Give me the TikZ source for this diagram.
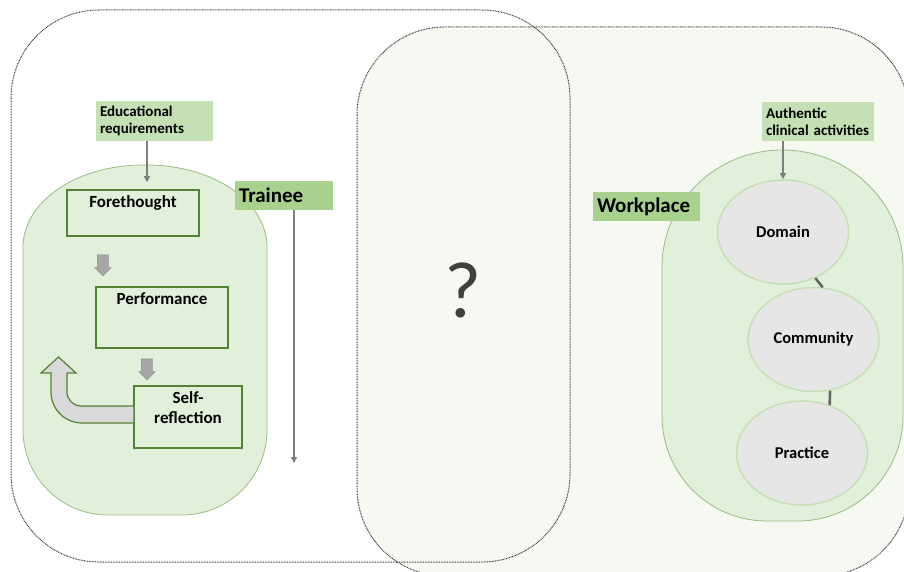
\documentclass[tikz,border=0pt]{standalone}
\usepackage{fontspec}
\setmainfont{Carlito}
\usetikzlibrary{shapes.geometric,shapes.arrows,arrows.meta}

\definecolor{boxgreen}{HTML}{548235}
\definecolor{areagreen}{HTML}{E2EFDA}
\definecolor{areaedge}{HTML}{98BC84}
\definecolor{taggreen}{HTML}{A9D18E}
\definecolor{notegreen}{HTML}{C5E0B4}
\definecolor{wallgreen}{HTML}{F6F9F2}
\definecolor{placegray}{HTML}{E7E6E6}
\definecolor{linegray}{HTML}{7F7F7F}

\begin{document}
\begin{tikzpicture}[x=1pt,y=-1pt,
    stage/.style={draw=boxgreen,line width=1.6pt,inner sep=0pt},
    stagetext/.style={font=\bfseries\fontsize{17}{20}\selectfont,align=center,anchor=north,inner sep=6pt},
    note/.style={fill=notegreen,inner sep=4pt,align=left,font=\bfseries\fontsize{15}{17}\selectfont,minimum height=39pt},
    tag/.style={fill=taggreen,inner sep=4pt,align=left,font=\bfseries\fontsize{21}{23}\selectfont,minimum height=29pt},
    place/.style={ellipse,draw=notegreen,line width=1.5pt,fill=placegray,minimum width=131pt,minimum height=104pt,inner sep=0pt,font=\bfseries\fontsize{16.5}{19}\selectfont},
    venn/.style={draw=black!80,line width=1pt,dash pattern=on 0.8pt off 0.8pt,rounded corners=88pt},
    area/.style={fill=areagreen,draw=areaedge,line width=0.8pt},
    feed/.style={draw=linegray,line width=1.8pt,-{Triangle[length=6pt,width=6pt]}},
    flowarrow/.style={single arrow,shape border rotate=270,fill=black!35,draw=black!45,line width=0.4pt,minimum height=21pt,minimum width=16pt,single arrow head extend=2.5pt,inner sep=5.5pt},
    loopback/.style={draw=boxgreen,line width=1.2pt,fill=black!15},
    link/.style={draw=black!60,line width=2.6pt}]
    \useasboundingbox (0,0) rectangle (904,572);

    \fill[wallgreen,rounded corners=88pt] (357,27) rectangle (909,576);
    \draw[venn] (11,10) rectangle (570,562);
    \draw[venn] (357,27) rectangle (909,576);

    \draw[area] (23,247) arc[start angle=180,end angle=270,x radius=120,y radius=82] -- (147,165)
        arc[start angle=270,end angle=360,x radius=120,y radius=82] -- (267,430)
        arc[start angle=0,end angle=90,radius=85] -- (108,515)
        arc[start angle=90,end angle=180,radius=85] -- cycle;
    \draw[area] (662,267) arc[start angle=180,end angle=360,x radius=120.5,y radius=117] -- (903,416)
        arc[start angle=0,end angle=90,radius=105] -- (767,521)
        arc[start angle=90,end angle=180,radius=105] -- cycle;

    \node[stage,minimum width=132pt,minimum height=46pt,label={[stagetext]north:Forethought}] (fore) at (133,213) {};
    \node[stage,minimum width=132pt,minimum height=61pt,label={[stagetext]north:Performance}] (perf) at (162,317.5) {};
    \node[stage,minimum width=108pt,minimum height=62pt,label={[stagetext]north:Self-\\reflection}] (reflect) at (188,417) {};

    \node[flowarrow] (down1) at (103,262.5) {};
    \node[flowarrow] (down2) at (147,366.5) {};

    \draw[loopback] (134,406) -- (81,406) arc[start angle=90,end angle=180,radius=14] -- (67,373) -- (76,373)
        -- (58.5,357) -- (41,373) -- (51,373) -- (51,392) arc[start angle=180,end angle=90,radius=31] -- (134,423) -- cycle;

    \node[note,text width=109pt,minimum height=40pt] (req) at (154.5,121) {Educational\\requirements};
    \node[tag,text width=90pt] (trainee) at (284,195.5) {Trainee};
    \coordinate (traineeend) at (294,463);
    \draw[feed,shorten >=7pt] ([xshift=-7.5pt]req.south) -- ([xshift=14pt]fore.north);
    \draw[feed] ([xshift=10pt]trainee.south) -- (traineeend);

    \node[font=\fontsize{80}{80}\selectfont,text=black!75,anchor=base] (query) at (463,317) {?};

    \node[tag,text width=99pt] (workplace) at (646.5,206.5) {Workplace};
    \node[note,text width=104pt] (auth) at (818,121.5) {Authentic\\clinical activities};
    \node[place] (domain) at (783,232) {Domain};
    \node[place] (community) at (813.5,339.5) {Community};
    \node[place] (practice) at (802,453) {Practice};
    \draw[feed] (auth.south -| domain.north) -- (domain.north);
    \draw[link] (domain.-55) -- (community.80);
    \draw[link] (community.-72) -- (practice.60);
\end{tikzpicture}
\end{document}
